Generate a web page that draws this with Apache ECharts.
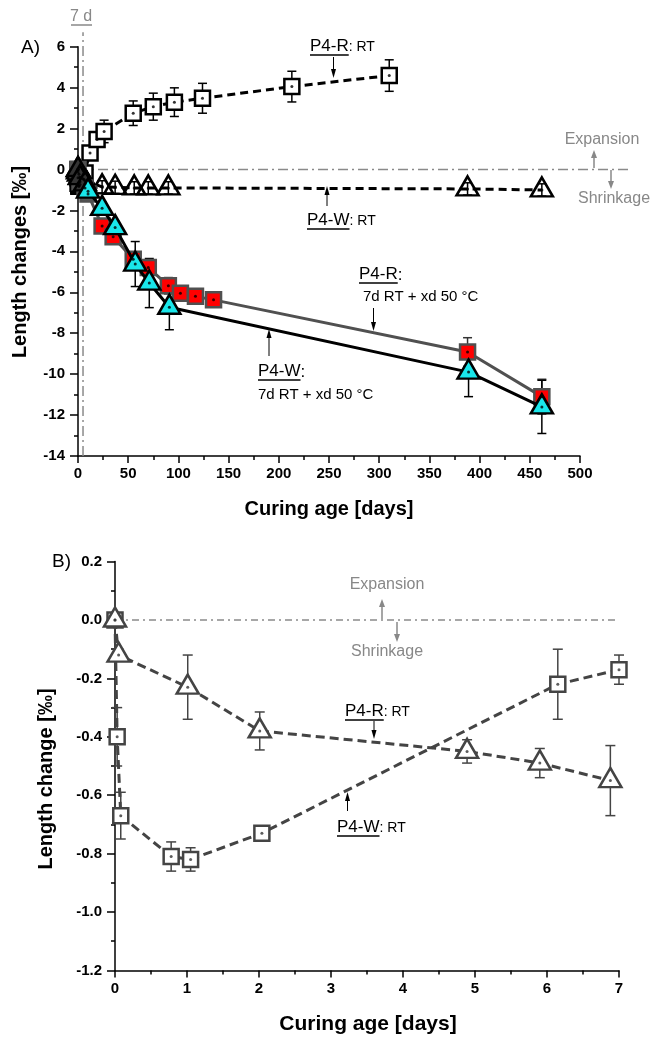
<!DOCTYPE html>
<html><head><meta charset="utf-8">
<script src="https://cdn.jsdelivr.net/npm/echarts@6/dist/echarts.min.js"></script>
<style>html,body{margin:0;padding:0;background:#fff}#c{width:654px;height:1037px}</style>
</head><body><div id="c"></div><script>
// ---------- Panel A data (curing age in days, length change in per mille) ----------
const rtR_early_days = [0, 0.03, 0.08, 0.78, 1.05, 2.04, 6.15, 7.0];
const rtR_early_vals = [0, -0.40, -0.67, -0.81, -0.82, -0.73, -0.22, -0.17];
const rtR_early_err  = [0, 0.10, 0.08, 0.05, 0.04, 0.02, 0.12, 0.05];
const rtW_early_days = [0, 0.05, 1.01, 2.01, 4.89, 5.90, 6.88];
const rtW_early_vals = [0, -0.12, -0.23, -0.38, -0.45, -0.49, -0.55];
const rtW_early_err  = [0, 0.02, 0.11, 0.065, 0.04, 0.05, 0.12];

const rtR_days = [12, 19, 26, 55, 75, 96, 124, 213, 310];
const rtR_vals = [0.81, 1.46, 1.86, 2.75, 3.07, 3.29, 3.48, 4.05, 4.59];
const rtR_err  = [0.2, 0.3, 0.55, 0.6, 0.66, 0.7, 0.73, 0.75, 0.77];
const rtW_days = [24, 37, 56, 70, 90, 388, 462];
const rtW_vals = [-0.85, -0.87, -0.9, -0.9, -0.9, -0.95, -1.0];
const rtW_err  = [0.3, 0.3, 0.3, 0.3, 0.3, 0.3, 0.3];

const heatR_pre_days = [0, 2, 7, 10];
const heatR_pre_vals = [0, -0.6, -0.9, -1.2];
const heatR_days = [24, 35, 55, 70, 90, 102, 117, 135, 388, 462];
const heatR_vals = [-2.76, -3.29, -4.38, -4.79, -5.68, -6.05, -6.2, -6.37, -8.92, -11.1];
const heatR_err  = [0.25, 0.3, 0.35, 0.35, 0.4, 0.3, 0.3, 0.3, 0.7, 0.85];
const heatW_pre_days = [0, 2, 7];
const heatW_pre_vals = [0, -0.4, -0.7];
const heatW_days = [10, 24, 37, 57, 71, 91, 389, 462];
const heatW_vals = [-1.06, -1.9, -2.84, -4.62, -5.55, -6.73, -9.9, -11.6];
const heatW_err  = [0.3, 0.3, 0.3, 1.1, 1.2, 1.1, 1.2, 1.3];

const refH_A = [[0, 0], [550, 0]];       // expansion / shrinkage border
const vLine_A = [[5, -14], [5, 6.7]];    // "7 d" marker line

// ---------- Panel B: first 7 days ----------
const refH_B = [[0, 0], [7, 0]];

const FF = '"Liberation Sans", Arial, sans-serif';
const FN = '"Liberation Sans Narrow", "Liberation Sans", Arial, sans-serif';

const zip3 = (d, v, e) => d.map((x, i) => [x, v[i], e ? e[i] : 0]);

const topR_RT = zip3(rtR_early_days.concat(rtR_days), rtR_early_vals.concat(rtR_vals), rtR_early_err.concat(rtR_err));
const topW_RT = zip3(rtW_early_days.concat(rtW_days), rtW_early_vals.concat(rtW_vals), rtW_early_err.concat(rtW_err));
const topR_H = zip3(heatR_pre_days.concat(heatR_days), heatR_pre_vals.concat(heatR_vals), heatR_pre_days.map(() => 0).concat(heatR_err));
const topW_H = zip3(heatW_pre_days.concat(heatW_days), heatW_pre_vals.concat(heatW_vals), heatW_pre_days.map(() => 0).concat(heatW_err));
const botSq = zip3(rtR_early_days, rtR_early_vals, rtR_early_err);
const botTri = zip3(rtW_early_days, rtW_early_vals, rtW_early_err);

function errRender(color, capW, lw) {
  return function (params, api) {
    const x = api.value(0), y = api.value(1), e = api.value(2);
    if (!e) return null;
    const p1 = api.coord([x, y + e]), p2 = api.coord([x, y - e]);
    const st = { stroke: color, lineWidth: lw };
    return { type: 'group', children: [
      { type: 'line', shape: { x1: p1[0], y1: p1[1], x2: p2[0], y2: p2[1] }, style: st },
      { type: 'line', shape: { x1: p1[0] - capW / 2, y1: p1[1], x2: p1[0] + capW / 2, y2: p1[1] }, style: st },
      { type: 'line', shape: { x1: p2[0] - capW / 2, y1: p2[1], x2: p2[0] + capW / 2, y2: p2[1] }, style: st }
    ]};
  };
}
function errSeries(data, xi, yi, color, capW, z) {
  return { type: 'custom', xAxisIndex: xi, yAxisIndex: yi, data: data, encode: { x: 0, y: 1 },
    renderItem: errRender(color, capW, 1.5), z: z, silent: true, clip: false };
}
function dotSeries(data, xi, yi, color) {
  return { type: 'scatter', xAxisIndex: xi, yAxisIndex: yi, data: data.map(d => [d[0], d[1]]),
    symbol: 'circle', symbolSize: 3, itemStyle: { color: color }, z: 6, silent: true };
}

const axLabA = { fontSize: 15, fontWeight: 'bold', fontFamily: FF, color: '#000' };
const axLabB = { fontSize: 15, fontWeight: 'bold', fontFamily: FN, color: '#000' };
const axLine = { show: true, onZero: false, lineStyle: { color: '#000', width: 1.5 } };

// ---------- graphic helpers ----------
const cv = document.createElement('canvas').getContext('2d');
function tw(txt, font) { cv.font = font; return cv.measureText(txt).width; }
const G = [];
function txt(x, y, s, font, fill, align, rot) {
  G.push({ type: 'text', x: x, y: y, rotation: rot || 0, silent: true,
    style: { text: s, font: font, fill: fill || '#000', align: align || 'left', verticalAlign: 'middle' } });
}
function hline(x1, x2, y, color, w) {
  G.push({ type: 'line', silent: true, shape: { x1: x1, y1: y, x2: x2, y2: y }, style: { stroke: color, lineWidth: w } });
}
function arrow(x, yFrom, yTo, color, lw, hw, hl) {
  const dir = yTo > yFrom ? 1 : -1;
  G.push({ type: 'line', silent: true, shape: { x1: x, y1: yFrom, x2: x, y2: yTo - dir * hl }, style: { stroke: color, lineWidth: lw } });
  G.push({ type: 'polygon', silent: true, shape: { points: [[x - hw / 2, yTo - dir * hl], [x + hw / 2, yTo - dir * hl], [x, yTo]] }, style: { fill: color } });
}
function label(x, y, main, rest, sMain, sRest) {
  const fm = sMain + 'px ' + FF, fr = sRest + 'px ' + FF;
  const w = tw(main, fm);
  txt(x, y, main, fm, '#000');
  hline(x, x + w, y + sMain * 0.5 + 0.5, '#000', 1.5);
  if (rest) txt(x + w, y + 1, rest, fr, '#000');
}

// Panel A decorations
txt(21, 48, 'A)', '19px ' + FF);
txt(81, 17, '7 d', '16px ' + FF, '#888', 'center');
hline(71, 92, 25, '#888', 1.5);
txt(20, 262, 'Length changes [‰]', 'bold 20px ' + FF, '#000', 'center', Math.PI / 2);
txt(329, 509, 'Curing age [days]', 'bold 20px ' + FF, '#000', 'center');
txt(602, 140, 'Expansion', '16px ' + FF, '#888', 'center');
txt(614, 199, 'Shrinkage', '16px ' + FF, '#888', 'center');
arrow(594, 168, 150, '#888', 1.5, 6, 8);
arrow(611, 170, 189, '#888', 1.5, 6, 8);
label(310, 46, 'P4-R', ': RT', 17, 14);
arrow(333.5, 57, 78, '#000', 1, 5, 9);
label(307, 220, 'P4-W', ': RT', 17, 14);
arrow(327, 206, 186, '#000', 1, 5, 9);
label(359, 274, 'P4-R', ':', 17, 17);
txt(363, 297, '7d RT + xd 50 °C', '15px ' + FF);
arrow(373.5, 308, 331, '#000', 1, 5, 9);
label(258, 371, 'P4-W', ':', 17, 17);
txt(258, 395, '7d RT + xd 50 °C', '15px ' + FF);
arrow(269, 356, 329, '#000', 1, 5, 9);

// Panel B decorations
txt(52, 562, 'B)', '19px ' + FF);
txt(46, 779, 'Length change [‰]', 'bold 20px ' + FN, '#000', 'center', Math.PI / 2);
txt(368, 1024, 'Curing age [days]', 'bold 21px ' + FN, '#000', 'center');
txt(387, 585, 'Expansion', '16px ' + FF, '#888', 'center');
txt(387, 652, 'Shrinkage', '16px ' + FF, '#888', 'center');
arrow(382, 619, 599, '#888', 1.5, 6, 8);
arrow(397, 622, 642, '#888', 1.5, 6, 8);
label(345, 711, 'P4-R', ': RT', 17, 14);
arrow(374, 721, 739, '#000', 1, 5, 9);
label(337, 827, 'P4-W', ': RT', 17, 14);
arrow(347.5, 811, 792, '#000', 1, 5, 9);

const preGrey = (arr, n, col) => arr.map((d, i) => i < n ? { value: [d[0], d[1]], itemStyle: { color: col } } : [d[0], d[1]]);

const option = {
  animation: false,
  backgroundColor: '#fff',
  grid: [
    { left: 78, top: 46.7, width: 502, height: 409.3 },
    { left: 78, top: 26.2, width: 552.2, height: 429.8 },
    { left: 115, top: 561.6, width: 504, height: 408.8 }
  ],
  xAxis: [
    { gridIndex: 0, type: 'value', min: 0, max: 500, interval: 50, axisLine: axLine,
      axisTick: { show: true, length: 7, lineStyle: { width: 1.5, color: '#000' } },
      minorTick: { show: true, splitNumber: 2, length: 4, lineStyle: { width: 1.5, color: '#000' } },
      splitLine: { show: false }, axisLabel: Object.assign({ margin: 10 }, axLabA) },
    { gridIndex: 1, type: 'value', min: 0, max: 550, show: false },
    { gridIndex: 2, type: 'value', min: 0, max: 7, interval: 1, axisLine: axLine,
      axisTick: { show: true, length: 7, lineStyle: { width: 1.5, color: '#000' } },
      minorTick: { show: true, splitNumber: 2, length: 4, lineStyle: { width: 1.5, color: '#000' } },
      splitLine: { show: false }, axisLabel: Object.assign({ margin: 11 }, axLabB) }
  ],
  yAxis: [
    { gridIndex: 0, type: 'value', min: -14, max: 6, interval: 2, axisLine: axLine,
      axisTick: { show: true, length: 8, lineStyle: { width: 1.5, color: '#000' } },
      minorTick: { show: true, splitNumber: 2, length: 4, lineStyle: { width: 1.5, color: '#000' } },
      splitLine: { show: false }, axisLabel: Object.assign({ margin: 13 }, axLabA) },
    { gridIndex: 1, type: 'value', min: -14, max: 7, show: false },
    { gridIndex: 2, type: 'value', min: -1.2, max: 0.2, interval: 0.2, axisLine: axLine,
      axisTick: { show: true, length: 8, lineStyle: { width: 1.5, color: '#000' } },
      minorTick: { show: true, splitNumber: 2, length: 4, lineStyle: { width: 1.5, color: '#000' } },
      splitLine: { show: false },
      axisLabel: Object.assign({ margin: 13, formatter: v => Math.abs(v) < 1e-9 ? '0.0' : v.toFixed(1) }, axLabB) }
  ],
  series: [
    { type: 'line', xAxisIndex: 1, yAxisIndex: 1, data: refH_A, symbol: 'none', z: 1, silent: true,
      lineStyle: { color: '#8a8a8a', width: 1.5, type: [10, 4, 2, 4] } },
    { type: 'line', xAxisIndex: 1, yAxisIndex: 1, data: vLine_A, symbol: 'none', z: 1, silent: true,
      lineStyle: { color: '#8a8a8a', width: 1.5, type: [10, 4, 2, 4] } },
    errSeries(topR_RT, 0, 0, '#000', 9, 2),
    { type: 'line', xAxisIndex: 0, yAxisIndex: 0, data: topR_RT.map(d => [d[0], d[1]]), z: 3,
      symbol: 'rect', symbolSize: 15, showAllSymbol: true,
      itemStyle: { color: '#fff', borderColor: '#000', borderWidth: 2.5 },
      lineStyle: { color: '#000', width: 3, type: [8, 5] } },
    { type: 'line', xAxisIndex: 0, yAxisIndex: 0, data: topW_RT.map(d => [d[0], d[1]]), z: 3,
      symbol: 'triangle', symbolSize: [22, 19], symbolOffset: [0, -3], showAllSymbol: true,
      itemStyle: { color: 'rgba(255,255,255,0)', borderColor: '#000', borderWidth: 2.5 },
      lineStyle: { color: '#000', width: 3, type: [8, 5] } },
    errSeries(topW_RT, 0, 0, '#000', 9, 4),
    errSeries(topR_H, 0, 0, '#333', 9, 3),
    { type: 'line', xAxisIndex: 0, yAxisIndex: 0, data: preGrey(topR_H, heatR_pre_days.length, '#555'), z: 4,
      symbol: 'rect', symbolSize: 15, showAllSymbol: true,
      itemStyle: { color: '#ff0000', borderColor: '#505050', borderWidth: 2.5 },
      lineStyle: { color: '#505050', width: 3 } },
    errSeries(topW_H, 0, 0, '#000', 9, 4),
    { type: 'line', xAxisIndex: 0, yAxisIndex: 0, data: preGrey(topW_H, heatW_pre_days.length, '#333'), z: 5,
      symbol: 'triangle', symbolSize: [22, 19], symbolOffset: [0, -3], showAllSymbol: true,
      itemStyle: { color: '#19e6ea', borderColor: '#000', borderWidth: 2.5 },
      lineStyle: { color: '#000', width: 3 } },
    dotSeries(topR_RT, 0, 0, '#000'),
    dotSeries(topW_RT, 0, 0, '#000'),
    dotSeries(topR_H, 0, 0, '#000'),
    dotSeries(topW_H, 0, 0, '#000'),

    { type: 'line', xAxisIndex: 2, yAxisIndex: 2, data: refH_B, symbol: 'none', z: 1, silent: true,
      lineStyle: { color: '#8a8a8a', width: 1.5, type: [7, 4, 2, 4] } },
    errSeries(botSq, 2, 2, '#444', 10, 2),
    { type: 'line', xAxisIndex: 2, yAxisIndex: 2, data: botSq.map(d => [d[0], d[1]]), z: 3,
      symbol: 'rect', symbolSize: 15, showAllSymbol: true,
      itemStyle: { color: '#fff', borderColor: '#444', borderWidth: 2.5 },
      lineStyle: { color: '#444', width: 3, type: [9, 5] } },
    errSeries(botTri, 2, 2, '#444', 10, 2),
    { type: 'line', xAxisIndex: 2, yAxisIndex: 2, data: botTri.map(d => [d[0], d[1]]), z: 3,
      symbol: 'triangle', symbolSize: [22, 19], symbolOffset: [0, -3], showAllSymbol: true,
      itemStyle: { color: '#fff', borderColor: '#444', borderWidth: 2.5 },
      lineStyle: { color: '#444', width: 3, type: [9, 5] } },
    dotSeries(botSq, 2, 2, '#333'),
    dotSeries(botTri, 2, 2, '#333')
  ],
  graphic: G
};
const chart = echarts.init(document.getElementById('c'), null, { renderer: 'canvas' });
chart.setOption(option);
</script></body></html>
